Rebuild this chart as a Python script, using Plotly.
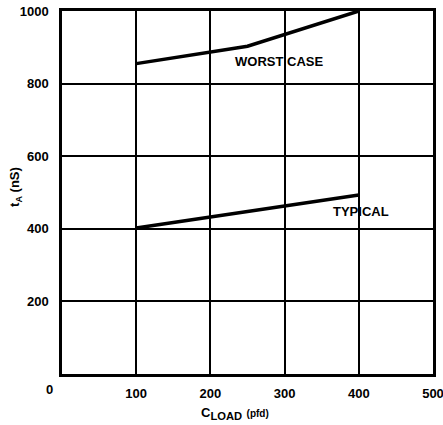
import plotly.graph_objects as go

# Data
worst_x = [100, 250, 400]
worst_y = [855, 903, 1000]
typ_x = [100, 400]
typ_y = [402, 493]

x_ticks = [100, 200, 300, 400, 500]
y_ticks = [200, 400, 600, 800, 1000]

FONT = "Liberation Sans, Arial, sans-serif"

fig = go.Figure()
fig.add_trace(go.Scatter(x=worst_x, y=worst_y, mode="lines",
                         line=dict(color="black", width=3.5), showlegend=False,
                         hoverinfo="skip"))
fig.add_trace(go.Scatter(x=typ_x, y=typ_y, mode="lines",
                         line=dict(color="black", width=3.5), showlegend=False,
                         hoverinfo="skip"))

fig.add_annotation(x=292, y=860, text="<b>WORST CASE</b>", showarrow=False,
                   font=dict(family=FONT, size=13, color="black"))
fig.add_annotation(x=403, y=449, text="<b>TYPICAL</b>", showarrow=False,
                   font=dict(family=FONT, size=13, color="black"))
# shared origin label
fig.add_annotation(x=0, y=0, xref="x", yref="y", text="<b>0</b>", showarrow=False,
                   xshift=-13, yshift=-15,
                   font=dict(family=FONT, size=13, color="black"))
# axis titles
fig.add_annotation(x=0.466, y=0, xref="paper", yref="paper", yshift=-38,
                   text="<b><span style='font-size:13px'>C</span><sub>LOAD</sub> "
                        "<span style='font-size:10px'>(pfd)</span></b>",
                   showarrow=False, yanchor="middle",
                   font=dict(family=FONT, size=16, color="black"))
fig.add_annotation(x=-0.127, y=0.515, xref="paper", yref="paper",
                   text="<b>t<sub>A</sub> (nS)</b>", textangle=-90,
                   showarrow=False, xanchor="center", yanchor="middle",
                   font=dict(family=FONT, size=13, color="black"))

fig.update_layout(
    width=443, height=425,
    margin=dict(l=62, r=10, t=11, b=51, autoexpand=False),
    plot_bgcolor="white", paper_bgcolor="white",
    font=dict(family=FONT, color="black"),
    hovermode=False,
    xaxis=dict(range=[0, 500], tickvals=x_ticks, showgrid=True, automargin=False,
               gridcolor="black", gridwidth=1.5, zeroline=False,
               showline=True, linecolor="black", linewidth=2.5, mirror=True,
               ticks="outside", ticklen=6, tickcolor="rgba(0,0,0,0)",
               ticklabeloverflow="allow",
               tickfont=dict(family=FONT, size=13, weight="bold")),
    yaxis=dict(range=[0, 1000], tickvals=y_ticks, showgrid=True, automargin=False,
               gridcolor="black", gridwidth=1.5, zeroline=False,
               showline=True, linecolor="black", linewidth=2.5, mirror=True,
               ticks="outside", ticklen=8, tickcolor="rgba(0,0,0,0)",
               ticklabeloverflow="allow",
               tickfont=dict(family=FONT, size=13, weight="bold")),
)

# remove the default 8px page margin so the figure fills the window
fig.write_html("out.html", config={"displayModeBar": False},
               post_script="document.body.style.margin='0';document.body.style.overflow='hidden';")
